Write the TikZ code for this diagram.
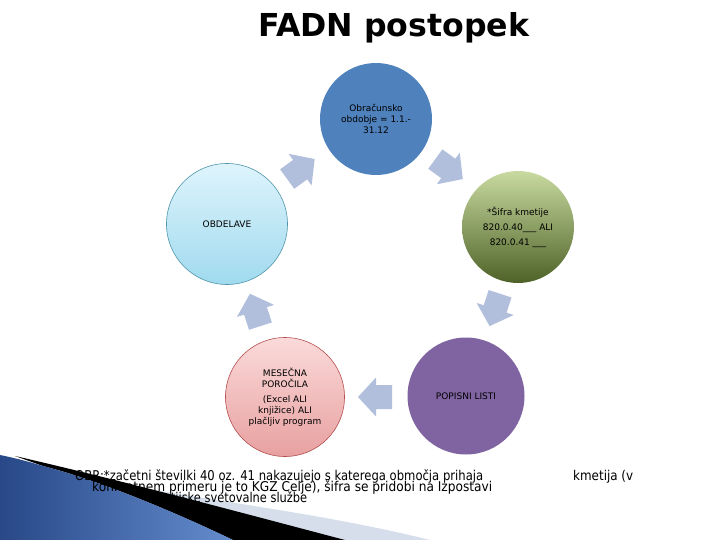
\documentclass[tikz,border=0pt]{standalone}
\usepackage{fontspec}
\usepackage{graphicx}
\setmainfont{DejaVu Sans}
\usetikzlibrary{calc}
\definecolor{cblue}{RGB}{79,129,189}
\definecolor{cpurple}{RGB}{128,100,162}
\definecolor{greentop}{RGB}{200,218,160}
\definecolor{greenbot}{RGB}{78,98,40}
\definecolor{ltbluetop}{RGB}{222,244,252}
\definecolor{ltbluebot}{RGB}{160,218,238}
\definecolor{ltblueedge}{RGB}{80,150,170}
\definecolor{pinktop}{RGB}{251,218,218}
\definecolor{pinkbot}{RGB}{232,160,160}
\definecolor{pinkedge}{RGB}{180,80,80}
\definecolor{arrowc}{RGB}{177,191,220}
\definecolor{decolight}{RGB}{214,222,236}
\definecolor{decodark}{RGB}{40,72,135}
\definecolor{decomid}{RGB}{100,140,205}
\begin{document}
\begin{tikzpicture}[x=1pt,y=-1pt,
  bubble/.style={circle, minimum size=116pt, inner sep=0pt, align=center,
    font=\fontsize{9}{11}\selectfont, text=black},
  cyclearrow/.style={fill=arrowc, draw=none},
  notetext/.style={anchor=base west, inner sep=0pt, font=\fontsize{13.5}{14}\selectfont, text=black}]
\useasboundingbox (0,0) rectangle (720,540);
\fill[white] (0,0) rectangle (720,540);

% bottom-left decoration
\fill[decolight] (120,484) .. controls (220,502) and (330,515) .. (430,540) -- (200,540) -- cycle;
\fill[black] (15,456) .. controls (120,480) and (250,515) .. (345,540) -- (233,540)
  .. controls (160,505) and (90,478) .. (43,466) -- cycle;
\shade[left color=decodark, right color=decomid] (0,455) .. controls (15,458) and (30,462) .. (43,466)
  .. controls (90,478) and (160,505) .. (233,540) -- (0,540) -- cycle;

% title
\node[anchor=base west, inner sep=0pt, font=\fontsize{31.6}{38}\selectfont\bfseries] (title) at (258,37) {FADN postopek};

\coordinate (C) at (375,271);

% circles
\node[bubble, minimum size=112pt, fill=cblue] (top) at (376,119) {Obračunsko\\obdobje = 1.1.-\\31.12};
\node[bubble, minimum size=112pt, top color=greentop, bottom color=greenbot, font=\fontsize{9}{15}\selectfont] (right) at (518,227) {*Šifra kmetije\\820.0.40\_\_\_ ALI\\820.0.41 \_\_\_};
\node[bubble, minimum size=117pt, fill=cpurple] (purple) at (466,396) {POPISNI LISTI};
\node[bubble, minimum size=119pt, top color=pinktop, bottom color=pinkbot, draw=pinkedge, line width=0.6pt] (pink) at (285,397)
  {MESEČNA\\POROČILA\\[4pt](Excel ALI\\knjižice) ALI\\plačljiv program};
\node[bubble, minimum size=121pt, top color=ltbluetop, bottom color=ltbluebot, draw=ltblueedge, line width=0.6pt] (left) at (227,224) {OBDELAVE};

% cycle arrows
\foreach \ang/\rot in {-54/-36, 18/-108, 90/-180, 162/108, -126/36}{
  \fill[cyclearrow, shift={($(C)+(\ang:126)$)}, rotate=\rot]
    (-17,-12) -- (-1,-12) -- (-1,-19.5) -- (17,0) -- (-1,19.5) -- (-1,12) -- (-17,12) -- cycle;
}

% footnote
\node[notetext] (n1) at (75,480) {\resizebox{408pt}{\height}{OBR:*začetni številki 40 oz. 41 nakazujejo s katerega območja prihaja}};
\node[notetext] (n1b) at (573,480) {\resizebox{60pt}{\height}{kmetija (v}};
\node[notetext] (n2) at (92,491) {\resizebox{400pt}{\height}{konkretnem primeru je to KGZ Celje), šifra se pridobi na Izpostavi}};
\node[notetext] (n3) at (146,502) {\resizebox{161pt}{\height}{kmetijske svetovalne službe}};
\end{tikzpicture}
\end{document}
